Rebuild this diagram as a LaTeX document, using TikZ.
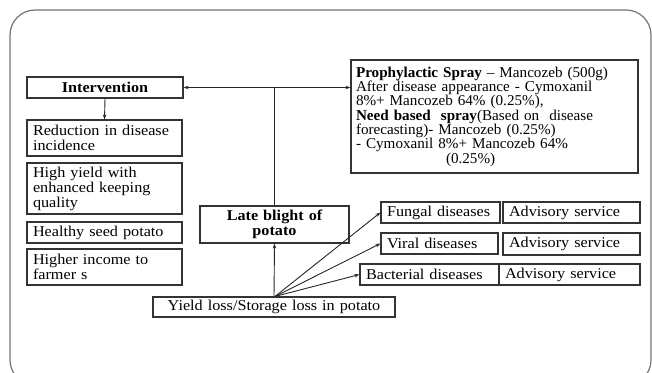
\documentclass[tikz,border=0pt]{standalone}
\usepackage{fontspec}
\setmainfont[FakeStretch=1.08]{Liberation Serif}
\newfontfamily\profont[FakeStretch=1.01,Ligatures=TeX]{Liberation Serif}
\usetikzlibrary{arrows.meta}
\begin{document}
\begin{tikzpicture}[x=1pt,y=-1pt,
  every node/.style={font=\fontsize{15}{15}\selectfont},
  box/.style={draw=black!80, line width=1.1pt, inner xsep=6pt, inner ysep=0pt},
  lbox/.style={box, align=left},
  cbox/.style={box, align=center},
  conn/.style={draw=black!85, line width=0.9pt},
  >={Stealth[length=5pt,width=3.5pt]}]
\useasboundingbox (0,0) rectangle (652,372);
\draw[black!55, line width=1.2pt, rounded corners=25pt] (10,10) rectangle (651,385);

\node[cbox, minimum width=156pt, minimum height=21pt, text width=144pt] (int) at (105,87.5) {\bfseries Intervention};
\node[lbox, minimum width=155pt, minimum height=36pt, text width=143pt] (red) at (104.5,138) {Reduction in disease\\incidence};
\node[lbox, minimum width=155pt, minimum height=51pt, text width=143pt] (high) at (104.5,188.5) {High yield with\\enhanced keeping\\quality};
\node[lbox, minimum width=155pt, minimum height=21pt, text width=143pt] (seed) at (104.5,232.5) {Healthy seed potato};
\node[lbox, minimum width=155pt, minimum height=36pt, text width=143pt] (inc) at (104.5,267) {Higher income to\\farmer s};

\node[cbox, minimum width=149pt, minimum height=37pt, text width=137pt] (late) at (274.5,224.5) {\bfseries Late blight of\\\bfseries potato};
\node[cbox, minimum width=242pt, minimum height=20pt, text width=230pt] (yield) at (274,307) {Yield loss/Storage loss in potato};

\node[lbox, minimum width=287pt, minimum height=113pt, text width=277pt, inner xsep=5pt, font=\profont\fontsize{15}{14.3}\selectfont] (pro) at (494.5,116.5) {\textbf{Prophylactic Spray} – Mancozeb (500g)\\After disease appearance - Cymoxanil\\8\%+ Mancozeb 64\% (0.25\%),\\\textbf{Need based\ \ spray}(Based on\ \ disease\\forecasting)- Mancozeb (0.25\%)\\- Cymoxanil 8\%+ Mancozeb 64\%\\\hspace*{90pt}(0.25\%)};

\node[lbox, minimum width=119pt, minimum height=21pt, text width=107pt] (fung) at (440.5,212.5) {Fungal diseases};
\node[lbox, minimum width=137pt, minimum height=21pt, text width=125pt] (adv1) at (571.5,212.5) {Advisory service};
\node[lbox, minimum width=117pt, minimum height=21pt, text width=105pt] (vir) at (439.5,243.5) {Viral diseases};
\node[lbox, minimum width=137pt, minimum height=22pt, text width=125pt] (adv2) at (571.5,244) {Advisory service};
\node[lbox, minimum width=139pt, minimum height=21pt, text width=127pt] (bac) at (429.5,274.5) {Bacterial diseases};
\node[lbox, minimum width=141pt, minimum height=21pt, text width=129pt] (adv3) at (569.5,274.5) {Advisory service};

\coordinate (j) at (late.north |- int.east);
\coordinate (o) at ([xshift=1pt]yield.north);
\draw[conn] (late.north) -- (j);
\draw[conn,->] (j) -- (int.east);
\draw[conn,->] (j) -- (pro.west |- j);
\draw[conn,->] (int.south) -- (red.north);
\draw[conn,->] (yield.north) -- (late.south);
\draw[conn,->] (o) -- (fung.west);
\draw[conn,->] (o) -- (vir.west);
\draw[conn,->] (o) -- (bac.west);
\end{tikzpicture}
\end{document}
